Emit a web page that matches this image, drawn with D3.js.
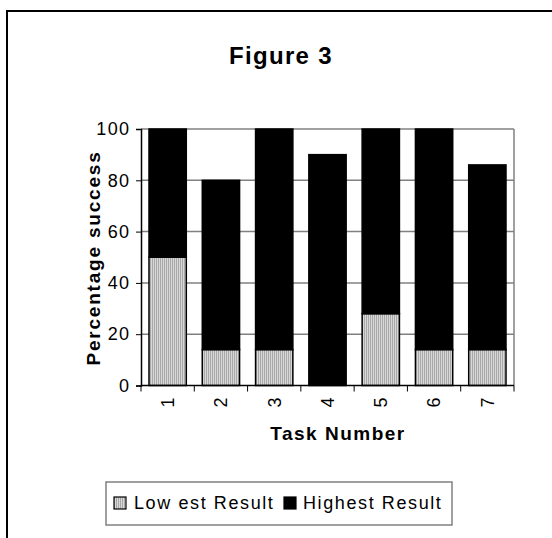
<!DOCTYPE html>
<html><head><meta charset="utf-8">
<script src="https://cdn.jsdelivr.net/npm/d3@7"></script>
<style>body{margin:0;background:#fff}svg{display:block}text{font-family:"Liberation Sans",Arial,sans-serif}</style>
</head><body>
<svg id="c" width="552" height="538"></svg>
<script>
const tasks = ["1","2","3","4","5","6","7"];
const lowest = [50, 14, 14, 0, 28, 14, 14];
const highest = [50, 66, 86, 90, 72, 86, 72];
const yTicks = [0, 20, 40, 60, 80, 100];
const seriesNames = ["Low est Result", "Highest Result"];

const svg = d3.select("#c");
const defs = svg.append("defs");
const pat = defs.append("pattern").attr("id","stripe").attr("patternUnits","userSpaceOnUse")
  .attr("width",2).attr("height",4);
pat.append("rect").attr("width",2).attr("height",4).attr("fill","#d8d8d8");
pat.append("rect").attr("width",1).attr("height",4).attr("fill","#a8a8a8");

// outer frame
svg.append("path").attr("d","M7,538 V11 H552").attr("fill","none").attr("stroke","#000").attr("stroke-width",2);

const x = d3.scaleBand().domain(tasks).range([141,514]).paddingInner(0.3).paddingOuter(0.15);
const y = d3.scaleLinear().domain([0,100]).range([385.5,129]);

// gridlines
svg.append("g").selectAll("line").data(yTicks.filter(d=>d>0)).join("line")
  .attr("x1",141).attr("x2",514).attr("y1",d=>y(d)).attr("y2",d=>y(d))
  .attr("stroke","#808080").attr("stroke-width",1.5);
svg.append("line").attr("x1",514).attr("x2",514).attr("y1",y(100)).attr("y2",y(0))
  .attr("stroke","#808080").attr("stroke-width",1.5);

const stack = tasks.map((t,i)=>({t, lo:lowest[i], hi:highest[i]}));
const bars = svg.append("g");
bars.selectAll("rect.lo").data(stack.filter(d=>d.lo>0)).join("rect")
  .attr("x",d=>x(d.t)).attr("width",x.bandwidth())
  .attr("y",d=>y(d.lo)).attr("height",d=>y(0)-y(d.lo))
  .attr("fill","url(#stripe)").attr("stroke","#000").attr("stroke-width",1.5);
bars.selectAll("rect.hi").data(stack).join("rect")
  .attr("x",d=>x(d.t)).attr("width",x.bandwidth())
  .attr("y",d=>y(d.lo+d.hi)).attr("height",d=>y(d.lo)-y(d.lo+d.hi))
  .attr("fill","#000").attr("stroke","#000").attr("stroke-width",1.5);

// y axis
const yAxis = svg.append("g").attr("transform","translate(141,0)")
  .call(d3.axisLeft(y).tickValues(yTicks).tickSize(5).tickPadding(5.5));
yAxis.select(".domain").attr("stroke","#000").attr("stroke-width",1.5);
yAxis.selectAll(".tick line").attr("stroke","#000");
yAxis.selectAll(".tick text").attr("font-size",18).attr("fill","#000")
  .style("font-family","'Liberation Sans',Arial,sans-serif").attr("letter-spacing",1.4);

// x axis
const xAxis = svg.append("g").attr("transform",`translate(0,${y(0)})`)
  .call(d3.axisBottom(x).tickSize(0).tickPadding(0));
xAxis.select(".domain").attr("stroke","#000").attr("stroke-width",1.5).attr("d","M141,0H514");
xAxis.selectAll(".tick text").attr("font-size",18).attr("fill","#000")
  .style("font-family","'Liberation Sans',Arial,sans-serif")
  .attr("transform","translate(0,17) rotate(-90)").attr("dy","0.35em").attr("text-anchor","middle").attr("y",0);
// boundary ticks
const bounds = d3.range(tasks.length+1).map(i=>141 + i*x.step());
xAxis.append("g").selectAll("line").data(bounds).join("line")
  .attr("x1",d=>d).attr("x2",d=>d).attr("y1",0).attr("y2",6).attr("stroke","#000");

// titles
svg.append("text").attr("x",281).attr("y",64).attr("text-anchor","middle")
  .attr("font-size",24).attr("font-weight","bold").attr("letter-spacing",1.3).text("Figure 3");
svg.append("text").attr("x",338).attr("y",440).attr("text-anchor","middle")
  .attr("font-size",19).attr("font-weight","bold").attr("letter-spacing",1.5).text("Task Number");
svg.append("text").attr("transform","translate(100,258) rotate(-90)").attr("text-anchor","middle")
  .attr("font-size",19).attr("font-weight","bold").attr("letter-spacing",1.8).text("Percentage success");

// legend
const lg = svg.append("g");
lg.append("rect").attr("x",106).attr("y",482).attr("width",346).attr("height",43)
  .attr("fill","#fff").attr("stroke","#808080").attr("stroke-width",1.5);
const items = [{name:seriesNames[0], fill:"url(#stripe)", sx:114, tx:134},
               {name:seriesNames[1], fill:"#000", sx:284, tx:303}];
items.forEach(it=>{
  lg.append("rect").attr("x",it.sx).attr("y",497).attr("width",12).attr("height",12)
    .attr("fill",it.fill).attr("stroke","#000").attr("stroke-width",1.2);
  lg.append("text").attr("x",it.tx).attr("y",509).attr("font-size",18).attr("letter-spacing",1.6).text(it.name);
});
</script>
</body></html>
